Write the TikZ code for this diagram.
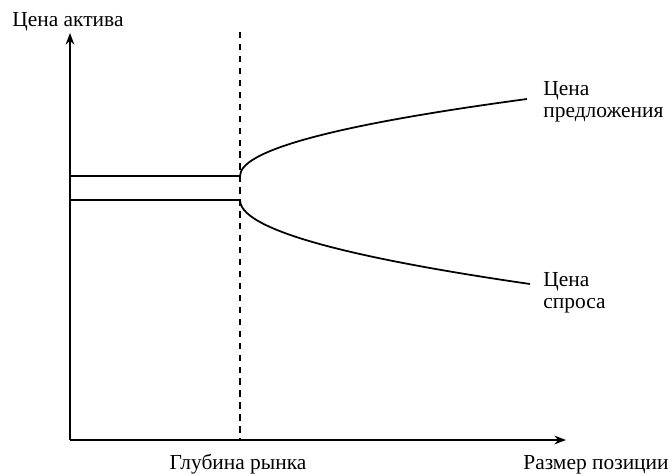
\documentclass[tikz,border=0pt]{standalone}
\usepackage{fontspec}
\setmainfont{Liberation Serif}
\usetikzlibrary{positioning,calc,arrows.meta}

\begin{document}
\begin{tikzpicture}[x=0.02cm, y=-0.02cm, >=Stealth,
    axisline/.style={line width=0.8pt},
    priceline/.style={line width=1pt},
    depthline/.style={line width=0.85pt, dash pattern=on 3.6pt off 3.2pt},
    lbl/.style={inner sep=0pt, font=\fontsize{12.2}{12.4}\selectfont}]
  \useasboundingbox (0,0) rectangle (671,473);
  % axes
  \coordinate (origin) at (70,440);
  \coordinate (ytip) at (70,33);
  \coordinate (xtip) at (566,440);
  \draw[axisline, ->] (origin) -- (ytip);
  \draw[axisline, ->] (origin) -- (xtip);
  % market depth
  \coordinate (depthtop) at (240,32);
  \coordinate (depthbot) at (240,440);
  \draw[depthline] (depthtop) -- (depthbot);
  % bid / ask
  \coordinate (askleft) at (70,176);
  \coordinate (askknee) at (240,176);
  \coordinate (askend) at (527,99);
  \coordinate (bidleft) at (70,200);
  \coordinate (bidknee) at (240,200);
  \coordinate (bidend) at (530,284);
  \draw[priceline] (askleft) -- (askknee) .. controls (240,150.3) and (335.7,124.7) .. (askend);
  \draw[priceline] (bidleft) -- (bidknee) .. controls (240,228) and (336.7,256) .. (bidend);
  % labels
  \node[lbl, anchor=base west] (yname) at (12,27) {Цена актива};
  \node[lbl, anchor=north west, align=left] (asklbl) at (543,81) {Цена\\предложения};
  \node[lbl, anchor=north west, align=left] (bidlbl) at (543,272) {Цена\\спроса};
  \node[lbl, anchor=base] (depthlbl) at (238,469) {Глубина рынка};
  \node[lbl, anchor=base east] (xname) at (669,469) {Размер позиции};
\end{tikzpicture}
\end{document}
